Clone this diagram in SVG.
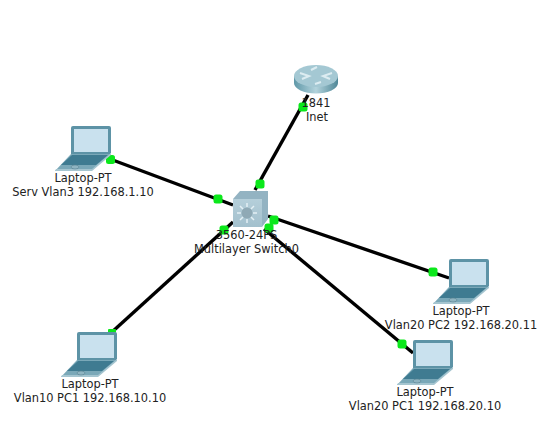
<svg xmlns="http://www.w3.org/2000/svg" width="556" height="436" viewBox="0 0 556 436">
<style>
.l{stroke:#000;stroke-width:3.4;fill:none}
.d{fill:#0be81b}
text{font-family:"DejaVu Sans",Verdana,sans-serif;font-size:11.4px;fill:#222;text-anchor:middle}
</style>
<defs>
<linearGradient id="rg" x1="0" y1="0" x2="1" y2="0"><stop offset="0" stop-color="#5f98a8"/><stop offset=".5" stop-color="#b3d3dc"/><stop offset="1" stop-color="#4f8797"/></linearGradient>
<linearGradient id="rt" x1="0" y1="0" x2="0" y2="1"><stop offset="0" stop-color="#b5cfda"/><stop offset="1" stop-color="#a3c0cd"/></linearGradient>
<g id="laptop">
<path d="M0 2 Q0 0 2 0H38Q40 0 40 2V27L38 29H0Z" fill="#5d93a6"/>
<rect x="3" y="3" width="34" height="23" fill="#c9e1ee"/>
<path d="M0 28H40L20 45H-16Z" fill="#7aa8b8"/>
<path d="M1 29H37L25 39H-10Z" fill="#3f7b91"/>
<path d="M-16 45L-15 43H21L40 27V29L21 45Z" fill="#a5c5d0"/>
<ellipse cx="4" cy="41" rx="4" ry="2" fill="#8fb4c1" stroke="#55808f" stroke-width=".6"/>
</g>
</defs>
<rect width="556" height="436" fill="#fff"/>
<g id="connectors">
<path class="l" d="M110 159L233 205"/>
<path class="l" d="M308 95L255 190"/>
<path class="l" d="M112 332L233 222"/>
<path class="l" d="M268 216L449 278"/>
<path class="l" d="M264 229L413 353"/>
<rect class="d" x="106" y="155" width="9" height="9" rx="2.5"/>
<rect class="d" x="298.500" y="102.500" width="9" height="9" rx="2.500"/>
<rect class="d" x="255.500" y="179.500" width="9" height="9" rx="2.500"/>
<rect class="d" x="213.500" y="194.500" width="9" height="9" rx="2.500"/>
<rect class="d" x="219.500" y="225.500" width="9" height="9" rx="2.500"/>
<rect class="d" x="264.500" y="223.500" width="9" height="9" rx="2.500"/>
<rect class="d" x="269.500" y="215.500" width="9" height="9" rx="2.500"/>
<rect class="d" x="428.500" y="267.500" width="9" height="9" rx="2.500"/>
<rect class="d" x="397.500" y="339.500" width="9" height="9" rx="2.500"/>
<rect class="d" x="108" y="329" width="8" height="4" rx="1"/>
</g>
<g id="router">
<ellipse cx="316" cy="83" rx="22" ry="10.500" fill="url(#rg)"/>
<rect x="294" y="76" width="44" height="7" fill="url(#rg)"/>
<ellipse cx="316" cy="76" rx="22" ry="11" fill="#a4c8d3"/>
<path d="M300 73l9 3-7 3M332 73l-9 3 7 3M311 70l6-3M321 82l-6 2" stroke="#dcecf1" stroke-width="2" fill="none"/>
<text x="316" y="107">1841</text>
<text x="317" y="121">Inet</text>
</g>
<g id="switch">
<path d="M233 199L240 191H268V219L262 227H233Z" fill="#93b3c2"/>
<rect x="233" y="199" width="29" height="28" fill="url(#rt)"/>
<circle cx="247" cy="213" r="5.500" fill="#8fa9b5"/>
<path d="M247 203v4M247 219v4M237 213h4M253 213h4M240 206l3 3M251 217l3 3M254 206l-3 3M243 217l-3 3" stroke="#e4f0f5" stroke-width="1.500" fill="none"/>
<text x="246.500" y="239">3560-24PS</text>
<text x="246.500" y="253">Multilayer Switch0</text>
</g>
<g id="serv">
<use href="#laptop" x="71" y="126"/>
<text x="83" y="182">Laptop-PT</text>
<text x="83" y="196">Serv Vlan3 192.168.1.10</text>
</g>
<g id="vlan10pc1">
<use href="#laptop" x="77" y="332"/>
<text x="90" y="388">Laptop-PT</text>
<text x="90" y="402">Vlan10 PC1 192.168.10.10</text>
</g>
<g id="vlan20pc2">
<use href="#laptop" x="449" y="259"/>
<text x="461" y="315">Laptop-PT</text>
<text x="461" y="329">Vlan20 PC2 192.168.20.11</text>
</g>
<g id="vlan20pc1">
<use href="#laptop" x="413" y="340"/>
<text x="425" y="396">Laptop-PT</text>
<text x="425" y="410">Vlan20 PC1 192.168.20.10</text>
</g>
</svg>
